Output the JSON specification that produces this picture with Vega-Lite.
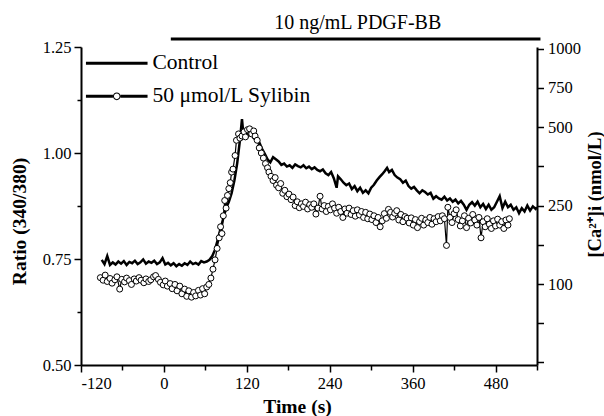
{
  "$schema": "https://vega.github.io/schema/vega-lite/v6.json",
  "width": 456,
  "height": 318,
  "autosize": "none",
  "padding": {"left": 81, "top": 47, "right": 67, "bottom": 51},
  "background": "white",
  "config": {
    "view": {"stroke": null},
    "font": "Liberation Serif",
    "legend": {"labelFont": "Liberation Serif"},
    "axis": {
      "labelFont": "Liberation Serif",
      "titleFont": "Liberation Serif",
      "labelColor": "black",
      "titleColor": "black",
      "domainColor": "black",
      "tickColor": "black",
      "domainWidth": 2,
      "tickWidth": 1.5,
      "grid": false,
      "labelFontSize": 16.5,
      "titleFontSize": 19.5,
      "titleFontWeight": "bold"
    }
  },
  "datasets": {
    "control": [
      {"t": -90, "r": 0.748}, {"t": -86, "r": 0.738}, {"t": -82, "r": 0.757}, {"t": -78, "r": 0.736},
      {"t": -74, "r": 0.742}, {"t": -70, "r": 0.737}, {"t": -66, "r": 0.744}, {"t": -62, "r": 0.739},
      {"t": -58, "r": 0.745}, {"t": -54, "r": 0.736}, {"t": -50, "r": 0.743}, {"t": -46, "r": 0.74},
      {"t": -42, "r": 0.746}, {"t": -38, "r": 0.738}, {"t": -34, "r": 0.742}, {"t": -30, "r": 0.749},
      {"t": -26, "r": 0.739}, {"t": -22, "r": 0.744}, {"t": -18, "r": 0.741}, {"t": -14, "r": 0.746},
      {"t": -10, "r": 0.738}, {"t": -6, "r": 0.742}, {"t": -2, "r": 0.752}, {"t": 2, "r": 0.737},
      {"t": 6, "r": 0.741}, {"t": 10, "r": 0.735}, {"t": 14, "r": 0.74}, {"t": 18, "r": 0.733},
      {"t": 22, "r": 0.738}, {"t": 26, "r": 0.734}, {"t": 30, "r": 0.74}, {"t": 34, "r": 0.736},
      {"t": 38, "r": 0.744}, {"t": 42, "r": 0.738}, {"t": 46, "r": 0.741}, {"t": 50, "r": 0.737},
      {"t": 54, "r": 0.745}, {"t": 58, "r": 0.742}, {"t": 62, "r": 0.744}, {"t": 66, "r": 0.748},
      {"t": 70, "r": 0.757}, {"t": 74, "r": 0.772}, {"t": 78, "r": 0.796}, {"t": 82, "r": 0.822},
      {"t": 86, "r": 0.846}, {"t": 90, "r": 0.87}, {"t": 94, "r": 0.885}, {"t": 98, "r": 0.905},
      {"t": 102, "r": 0.935}, {"t": 106, "r": 0.975}, {"t": 110, "r": 1.03}, {"t": 113, "r": 1.08},
      {"t": 115, "r": 1.045}, {"t": 118, "r": 1.05}, {"t": 122, "r": 1.04}, {"t": 126, "r": 1.048},
      {"t": 130, "r": 1.035}, {"t": 134, "r": 1.03}, {"t": 138, "r": 1.025}, {"t": 142, "r": 1.01},
      {"t": 146, "r": 0.998}, {"t": 150, "r": 0.985}, {"t": 154, "r": 0.978}, {"t": 158, "r": 0.99},
      {"t": 162, "r": 0.985}, {"t": 166, "r": 0.98}, {"t": 170, "r": 0.972}, {"t": 174, "r": 0.975},
      {"t": 178, "r": 0.968}, {"t": 182, "r": 0.971}, {"t": 186, "r": 0.965}, {"t": 190, "r": 0.973},
      {"t": 194, "r": 0.969}, {"t": 198, "r": 0.966}, {"t": 202, "r": 0.971}, {"t": 206, "r": 0.964},
      {"t": 210, "r": 0.968}, {"t": 214, "r": 0.962}, {"t": 218, "r": 0.966}, {"t": 222, "r": 0.96},
      {"t": 226, "r": 0.957}, {"t": 230, "r": 0.961}, {"t": 234, "r": 0.952}, {"t": 238, "r": 0.948},
      {"t": 242, "r": 0.955}, {"t": 246, "r": 0.94}, {"t": 250, "r": 0.918}, {"t": 252, "r": 0.945},
      {"t": 256, "r": 0.938}, {"t": 260, "r": 0.93}, {"t": 264, "r": 0.924}, {"t": 268, "r": 0.928},
      {"t": 272, "r": 0.915}, {"t": 276, "r": 0.922}, {"t": 280, "r": 0.91}, {"t": 284, "r": 0.918},
      {"t": 288, "r": 0.906}, {"t": 292, "r": 0.912}, {"t": 296, "r": 0.905}, {"t": 300, "r": 0.918},
      {"t": 304, "r": 0.925}, {"t": 308, "r": 0.935}, {"t": 312, "r": 0.943}, {"t": 316, "r": 0.95},
      {"t": 320, "r": 0.958}, {"t": 323, "r": 0.965}, {"t": 326, "r": 0.955}, {"t": 330, "r": 0.96},
      {"t": 334, "r": 0.948}, {"t": 338, "r": 0.942}, {"t": 342, "r": 0.938}, {"t": 346, "r": 0.93},
      {"t": 350, "r": 0.935}, {"t": 354, "r": 0.922}, {"t": 358, "r": 0.916}, {"t": 362, "r": 0.92},
      {"t": 366, "r": 0.912}, {"t": 370, "r": 0.905}, {"t": 374, "r": 0.912}, {"t": 378, "r": 0.908},
      {"t": 382, "r": 0.902}, {"t": 386, "r": 0.906}, {"t": 390, "r": 0.892}, {"t": 394, "r": 0.898},
      {"t": 398, "r": 0.893}, {"t": 402, "r": 0.89}, {"t": 406, "r": 0.897}, {"t": 410, "r": 0.888},
      {"t": 414, "r": 0.893}, {"t": 418, "r": 0.885}, {"t": 422, "r": 0.89}, {"t": 426, "r": 0.881},
      {"t": 430, "r": 0.887}, {"t": 434, "r": 0.878}, {"t": 438, "r": 0.866}, {"t": 442, "r": 0.878},
      {"t": 446, "r": 0.884}, {"t": 450, "r": 0.876}, {"t": 454, "r": 0.885}, {"t": 458, "r": 0.872},
      {"t": 462, "r": 0.88}, {"t": 466, "r": 0.868}, {"t": 470, "r": 0.878}, {"t": 474, "r": 0.866},
      {"t": 478, "r": 0.872}, {"t": 482, "r": 0.885}, {"t": 486, "r": 0.898}, {"t": 490, "r": 0.87},
      {"t": 494, "r": 0.885}, {"t": 498, "r": 0.872}, {"t": 502, "r": 0.878}, {"t": 506, "r": 0.866},
      {"t": 510, "r": 0.872}, {"t": 514, "r": 0.858}, {"t": 518, "r": 0.87}, {"t": 522, "r": 0.862},
      {"t": 526, "r": 0.876}, {"t": 530, "r": 0.864}, {"t": 534, "r": 0.874}, {"t": 538, "r": 0.868},
      {"t": 540, "r": 0.872}
    ],
    "sylibin": [
      {"t": -92, "r": 0.706}, {"t": -88, "r": 0.7}, {"t": -85, "r": 0.712}, {"t": -82, "r": 0.697},
      {"t": -78, "r": 0.704}, {"t": -75, "r": 0.693}, {"t": -71, "r": 0.701}, {"t": -68, "r": 0.708},
      {"t": -64, "r": 0.679}, {"t": -61, "r": 0.702}, {"t": -57, "r": 0.696}, {"t": -54, "r": 0.705},
      {"t": -50, "r": 0.699}, {"t": -47, "r": 0.69}, {"t": -43, "r": 0.703}, {"t": -40, "r": 0.698},
      {"t": -36, "r": 0.706}, {"t": -33, "r": 0.7}, {"t": -29, "r": 0.694}, {"t": -26, "r": 0.703},
      {"t": -22, "r": 0.697}, {"t": -19, "r": 0.701}, {"t": -15, "r": 0.708}, {"t": -12, "r": 0.711},
      {"t": -8, "r": 0.702}, {"t": -5, "r": 0.695}, {"t": -1, "r": 0.689}, {"t": 2, "r": 0.698},
      {"t": 5, "r": 0.686}, {"t": 9, "r": 0.692}, {"t": 12, "r": 0.68}, {"t": 16, "r": 0.69},
      {"t": 19, "r": 0.675}, {"t": 23, "r": 0.686}, {"t": 26, "r": 0.668}, {"t": 30, "r": 0.679},
      {"t": 33, "r": 0.662}, {"t": 36, "r": 0.675}, {"t": 40, "r": 0.66}, {"t": 43, "r": 0.671},
      {"t": 46, "r": 0.663}, {"t": 50, "r": 0.676}, {"t": 53, "r": 0.665}, {"t": 56, "r": 0.68},
      {"t": 59, "r": 0.668}, {"t": 62, "r": 0.684}, {"t": 65, "r": 0.69}, {"t": 68, "r": 0.705},
      {"t": 71, "r": 0.726}, {"t": 74, "r": 0.748}, {"t": 77, "r": 0.775}, {"t": 80, "r": 0.8},
      {"t": 82, "r": 0.826}, {"t": 84, "r": 0.81}, {"t": 86, "r": 0.852}, {"t": 88, "r": 0.888},
      {"t": 90, "r": 0.87}, {"t": 92, "r": 0.9}, {"t": 94, "r": 0.916}, {"t": 96, "r": 0.93},
      {"t": 98, "r": 0.955}, {"t": 100, "r": 0.962}, {"t": 103, "r": 0.994}, {"t": 105, "r": 1.03},
      {"t": 108, "r": 1.045}, {"t": 110, "r": 1.035}, {"t": 113, "r": 1.04}, {"t": 116, "r": 1.05},
      {"t": 118, "r": 1.038}, {"t": 121, "r": 1.055}, {"t": 124, "r": 1.057}, {"t": 127, "r": 1.045},
      {"t": 130, "r": 1.052}, {"t": 132, "r": 1.04}, {"t": 135, "r": 1.03}, {"t": 138, "r": 1.012},
      {"t": 141, "r": 1.0}, {"t": 144, "r": 0.988}, {"t": 147, "r": 0.975}, {"t": 150, "r": 0.965},
      {"t": 152, "r": 0.955}, {"t": 155, "r": 0.945}, {"t": 158, "r": 0.935}, {"t": 161, "r": 0.942},
      {"t": 163, "r": 0.924}, {"t": 166, "r": 0.918}, {"t": 169, "r": 0.928}, {"t": 172, "r": 0.905},
      {"t": 175, "r": 0.912}, {"t": 178, "r": 0.897}, {"t": 181, "r": 0.903}, {"t": 184, "r": 0.89},
      {"t": 187, "r": 0.896}, {"t": 190, "r": 0.876}, {"t": 193, "r": 0.885}, {"t": 196, "r": 0.871},
      {"t": 199, "r": 0.88}, {"t": 202, "r": 0.874}, {"t": 205, "r": 0.884}, {"t": 208, "r": 0.868},
      {"t": 211, "r": 0.878}, {"t": 214, "r": 0.872}, {"t": 217, "r": 0.88}, {"t": 220, "r": 0.856},
      {"t": 223, "r": 0.87}, {"t": 226, "r": 0.898}, {"t": 229, "r": 0.868}, {"t": 232, "r": 0.876},
      {"t": 235, "r": 0.862}, {"t": 238, "r": 0.874}, {"t": 241, "r": 0.866}, {"t": 244, "r": 0.88},
      {"t": 247, "r": 0.87}, {"t": 250, "r": 0.858}, {"t": 253, "r": 0.872}, {"t": 256, "r": 0.862},
      {"t": 259, "r": 0.848}, {"t": 262, "r": 0.868}, {"t": 265, "r": 0.858}, {"t": 268, "r": 0.87},
      {"t": 271, "r": 0.855}, {"t": 274, "r": 0.864}, {"t": 277, "r": 0.851}, {"t": 280, "r": 0.866},
      {"t": 283, "r": 0.854}, {"t": 286, "r": 0.862}, {"t": 289, "r": 0.848}, {"t": 292, "r": 0.86},
      {"t": 295, "r": 0.845}, {"t": 298, "r": 0.856}, {"t": 301, "r": 0.843}, {"t": 304, "r": 0.852},
      {"t": 307, "r": 0.836}, {"t": 310, "r": 0.848}, {"t": 313, "r": 0.826}, {"t": 316, "r": 0.84},
      {"t": 319, "r": 0.857}, {"t": 322, "r": 0.846}, {"t": 325, "r": 0.867}, {"t": 328, "r": 0.86},
      {"t": 331, "r": 0.849}, {"t": 334, "r": 0.858}, {"t": 337, "r": 0.864}, {"t": 340, "r": 0.842},
      {"t": 343, "r": 0.855}, {"t": 346, "r": 0.838}, {"t": 349, "r": 0.85}, {"t": 352, "r": 0.846},
      {"t": 355, "r": 0.835}, {"t": 358, "r": 0.847}, {"t": 361, "r": 0.83}, {"t": 364, "r": 0.843},
      {"t": 367, "r": 0.824}, {"t": 370, "r": 0.838}, {"t": 373, "r": 0.846}, {"t": 376, "r": 0.83},
      {"t": 379, "r": 0.842}, {"t": 382, "r": 0.836}, {"t": 385, "r": 0.848}, {"t": 388, "r": 0.832},
      {"t": 391, "r": 0.845}, {"t": 394, "r": 0.838}, {"t": 397, "r": 0.85}, {"t": 400, "r": 0.84},
      {"t": 403, "r": 0.852}, {"t": 406, "r": 0.845}, {"t": 409, "r": 0.782}, {"t": 411, "r": 0.872},
      {"t": 414, "r": 0.848}, {"t": 417, "r": 0.836}, {"t": 420, "r": 0.857}, {"t": 423, "r": 0.866},
      {"t": 426, "r": 0.843}, {"t": 429, "r": 0.828}, {"t": 432, "r": 0.84}, {"t": 435, "r": 0.852},
      {"t": 438, "r": 0.824}, {"t": 441, "r": 0.846}, {"t": 444, "r": 0.835}, {"t": 447, "r": 0.855},
      {"t": 450, "r": 0.842}, {"t": 453, "r": 0.83}, {"t": 456, "r": 0.848}, {"t": 459, "r": 0.8},
      {"t": 462, "r": 0.838}, {"t": 465, "r": 0.826}, {"t": 468, "r": 0.845}, {"t": 471, "r": 0.832},
      {"t": 474, "r": 0.822}, {"t": 477, "r": 0.84}, {"t": 480, "r": 0.828}, {"t": 483, "r": 0.844},
      {"t": 486, "r": 0.83}, {"t": 489, "r": 0.838}, {"t": 492, "r": 0.822}, {"t": 495, "r": 0.842},
      {"t": 498, "r": 0.83}, {"t": 500, "r": 0.845}
    ],
    "pdgf": [{"t": 10, "t2": 545, "r": 1.2689, "label": "10 ng/mL PDGF-BB", "tc": 280.5, "rl": 1.2935}]
  },
  "layer": [
    {
      "data": {"name": "control"},
      "mark": {"type": "line", "strokeWidth": 2.5},
      "encoding": {
        "x": {
          "field": "t", "type": "quantitative",
          "scale": {"domain": [-120, 540], "nice": false, "zero": false},
          "axis": {
            "values": [-120, -60, 0, 60, 120, 180, 240, 300, 360, 420, 480, 540],
            "labelExpr": "datum.value % 120 === 0 ? '' + datum.value : ''",
            "tickSize": {"condition": {"test": "datum.value % 120 === 0", "value": 7}, "value": 5},
            "labelPadding": 3,
            "title": "Time (s)",
            "titleX": 216, "titleY": 41, "titleAlign": "center", "titleBaseline": "middle"
          }
        },
        "y": {
          "field": "r", "type": "quantitative",
          "scale": {"domain": [0.5, 1.25], "nice": false, "zero": false},
          "axis": {
            "orient": "left",
            "values": [0.5, 0.625, 0.75, 0.875, 1, 1.125, 1.25],
            "labelExpr": "round(datum.value * 8) % 2 === 0 ? format(datum.value, '.2f') : ''",
            "tickSize": {"condition": {"test": "round(datum.value * 8) % 2 === 0", "value": 7}, "value": 4},
            "labelPadding": 3,
            "title": "Ratio (340/380)",
            "titleAngle": 270, "titleX": -62, "titleY": 174, "titleAlign": "center", "titleBaseline": "middle"
          }
        },
        "color": {
          "datum": "Control", "type": "nominal",
          "scale": {"domain": ["Control", "50 μmol/L Sylibin"], "range": ["black", "black"]},
          "legend": {
            "orient": "none", "legendX": 25, "legendY": 5.6, "title": null, "padding": 0,
            "labelFont": "Liberation Serif", "labelFontSize": 21.5, "labelColor": "black",
            "labelOffset": 25, "labelLimit": 400, "symbolSize": 100, "symbolStrokeWidth": 0,
            "rowPadding": 10,
            "encode": {
              "symbols": {
                "update": {
                  "shape": {"signal": "datum.value === 'Control' ? 'M-6.16,-0.3H6.16V0.3H-6.16Z' : 'M-6.16,-0.3H-0.76V0.3H-6.16Z M0.76,-0.3H6.16V0.3H0.76Z M0.76,0A0.76,0.76,0,1,1,-0.76,0A0.76,0.76,0,1,1,0.76,0Z M0.56,0A0.56,0.56,0,1,0,-0.56,0A0.56,0.56,0,1,0,0.56,0Z'"},
                  "fill": {"value": "black"},
                  "stroke": {"value": "transparent"},
                  "strokeWidth": {"value": 0},
                  "opacity": {"value": 1}
                }
              }
            }
          }
        }
      }
    },
    {
      "data": {"name": "sylibin"},
      "mark": {"type": "line", "strokeWidth": 1.2},
      "encoding": {
        "x": {"field": "t", "type": "quantitative"},
        "y": {
          "field": "r", "type": "quantitative",
          "scale": {"domain": [0.5, 1.25], "nice": false, "zero": false},
          "axis": {
            "orient": "right",
            "values": [1.246, 1.1535, 1.061, 0.9685, 0.876, 0.7835, 0.691, 0.5985, 0.506],
            "labelExpr": "datum.value > 1.2 ? '1000' : datum.value > 1.1 ? '750' : datum.value > 1.0 ? '500' : abs(datum.value - 0.876) < 0.01 ? '250' : abs(datum.value - 0.691) < 0.01 ? '100' : ''",
            "tickSize": 6.5,
            "labelPadding": 4,
            "title": "[Ca²⁺]i (nmol/L)",
            "titleFontSize": 18.5,
            "titleAngle": 270, "titleX": 57, "titleY": 147, "titleAlign": "center", "titleBaseline": "middle"
          }
        },
        "color": {"datum": "50 μmol/L Sylibin", "type": "nominal"}
      }
    },
    {
      "data": {"name": "sylibin"},
      "mark": {"type": "point", "shape": "circle", "filled": true, "fill": "white", "stroke": "black", "strokeWidth": 1, "size": 36, "opacity": 1},
      "encoding": {
        "x": {"field": "t", "type": "quantitative"},
        "y": {"field": "r", "type": "quantitative", "scale": {"domain": [0.5, 1.25], "nice": false, "zero": false}, "axis": null}
      }
    },
    {
      "data": {"name": "pdgf"},
      "mark": {"type": "rule", "strokeWidth": 3, "color": "black"},
      "encoding": {
        "x": {"field": "t", "type": "quantitative"},
        "x2": {"field": "t2"},
        "y": {"field": "r", "type": "quantitative", "scale": {"domain": [0.5, 1.25], "nice": false, "zero": false}, "axis": null}
      }
    },
    {
      "data": {"name": "pdgf"},
      "mark": {"type": "text", "font": "Liberation Serif", "fontSize": 20, "baseline": "alphabetic", "align": "center", "color": "black"},
      "encoding": {
        "x": {"field": "tc", "type": "quantitative"},
        "y": {"field": "rl", "type": "quantitative", "scale": {"domain": [0.5, 1.25], "nice": false, "zero": false}, "axis": null},
        "text": {"field": "label"}
      }
    }
  ],
  "resolve": {"scale": {"y": "independent"}}
}
